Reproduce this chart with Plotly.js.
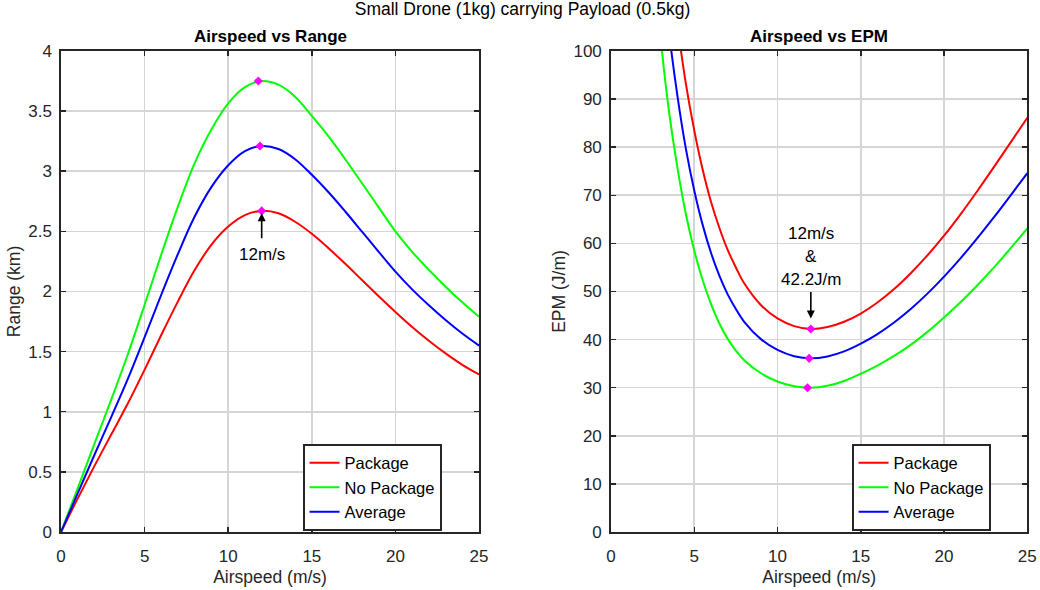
<!DOCTYPE html>
<html>
<head>
<meta charset="utf-8">
<script src="https://cdn.plot.ly/plotly-3.0.1.min.js"></script>
<style>html,body{margin:0;padding:0;background:#fff;}#chart{width:1040px;height:590px;}</style>
</head>
<body>
<div id="chart"></div>
<script>
// ---- Data ----
const seriesNames = ['Package', 'No Package', 'Average'];
const seriesColors = ['#FF0000', '#00FF00', '#0000FF'];

// Left panel: Airspeed (m/s) vs Range (km)
const rangeSpeed = [0,1,2,3,4,5,6,7,8,9,10,11,12,13,14,15,16,17,18,19,20,21,22,23,24,25];
const rangePackage   = [0,0.28,0.55,0.81,1.07,1.35,1.64,1.92,2.18,2.39,2.54,2.635,2.67,2.65,2.58,2.48,2.36,2.23,2.095,1.96,1.83,1.705,1.59,1.485,1.39,1.31];
const rangeNoPackage = [0,0.365,0.735,1.10,1.48,1.89,2.31,2.71,3.07,3.35,3.565,3.70,3.75,3.72,3.62,3.46,3.29,3.10,2.90,2.70,2.50,2.33,2.18,2.04,1.91,1.79];
const rangeAverage   = [0,0.3225,0.6425,0.955,1.275,1.62,1.975,2.315,2.625,2.87,3.05,3.1675,3.21,3.185,3.10,2.97,2.825,2.665,2.4975,2.33,2.165,2.0175,1.885,1.7625,1.65,1.55];

// Right panel: Airspeed (m/s) vs EPM (J/m)
const epmSpeed = [2.5,3,3.5,4,4.5,5,5.5,6,6.5,7,7.5,8,9,10,11,12,13,14,15,16,17,18,19,20,21,22,23,24,25];
const epmPackage   = [163,139,120,105.3,93.1,83.5,75.4,68.7,63.3,58.7,55.0,51.7,47.2,44.4,42.8,42.2,42.6,43.7,45.4,47.7,50.5,53.8,57.5,61.6,66.1,70.9,75.9,81.0,86.1];
const epmNoPackage = [122,102,87,75.5,66,58.5,52.4,47.5,43.4,40.2,37.7,35.7,33.0,31.3,30.3,30.0,30.4,31.4,32.9,34.6,36.6,38.9,41.6,44.6,47.8,51.3,55.0,59.0,63.1];
const epmAverage   = [142.5,120.5,103.5,90.4,79.6,71.0,63.9,58.1,53.35,49.45,46.35,43.7,40.1,37.85,36.55,36.1,36.5,37.55,39.15,41.15,43.55,46.35,49.55,53.1,56.95,61.1,65.45,70.0,74.6];

// Optimum markers (magenta)
const rangeOptSpeed = [12.0, 11.8, 11.9];
const rangeOptValue = [2.67, 3.75, 3.21];
const epmOptSpeed = [12.0, 11.8, 11.9];
const epmOptValue = [42.2, 30.0, 36.1];

// Annotation texts
const leftNote = '12m/s';
const rightNoteLines = ['12m/s', '&', '42.2J/m'];

// ---- Build chart ----
const FONT = 'Liberation Sans, Arial, Helvetica, sans-serif';
const rangeSeries = [rangePackage, rangeNoPackage, rangeAverage];
const epmSeries = [epmPackage, epmNoPackage, epmAverage];

const traces = [];
for (let i = 0; i < 3; i++) {
  traces.push({
    type: 'scatter', mode: 'lines', x: rangeSpeed, y: rangeSeries[i],
    name: seriesNames[i], xaxis: 'x', yaxis: 'y', legend: 'legend',
    line: {color: seriesColors[i], width: 2, shape: 'spline', smoothing: 1}
  });
}
traces.push({
  type: 'scatter', mode: 'markers', x: rangeOptSpeed, y: rangeOptValue,
  xaxis: 'x', yaxis: 'y', showlegend: false,
  marker: {symbol: 'diamond', size: 7, color: '#FF00FF'}
});
for (let i = 0; i < 3; i++) {
  traces.push({
    type: 'scatter', mode: 'lines', x: epmSpeed, y: epmSeries[i],
    name: seriesNames[i], xaxis: 'x2', yaxis: 'y2', legend: 'legend2',
    line: {color: seriesColors[i], width: 2, shape: 'spline', smoothing: 1}
  });
}
traces.push({
  type: 'scatter', mode: 'markers', x: epmOptSpeed, y: epmOptValue,
  xaxis: 'x2', yaxis: 'y2', showlegend: false,
  marker: {symbol: 'diamond', size: 7, color: '#FF00FF'}
});

function axis(extra) {
  return Object.assign({
    showline: true, linecolor: '#262626', linewidth: 1.8, mirror: 'ticks',
    ticks: 'inside', ticklen: 5, tickwidth: 1.5, tickcolor: '#262626',
    showgrid: true, gridcolor: '#d5d5d5', gridwidth: 1.6, zeroline: false,
    tickfont: {family: FONT, size: 17, color: '#262626'},
    fixedrange: true
  }, extra);
}

const xL = [0.0587, 0.4606], xR = [0.5875, 0.9878], yD = [0.0983, 0.9136];
const titleFont = {family: FONT, size: 17.5, color: '#262626'};
const legendFont = {family: FONT, size: 16.5, color: '#000000'};

const layout = {
  width: 1040, height: 590,
  margin: {l: 0, r: 0, t: 0, b: 0},
  paper_bgcolor: '#ffffff', plot_bgcolor: '#ffffff',
  font: {family: FONT, size: 17, color: '#262626'},
  title: {text: 'Small Drone (1kg) carrying Payload (0.5kg)', x: 0.5024, xanchor: 'center',
          yref: 'container', y: 1 - 9/590, yanchor: 'middle',
          font: {family: FONT, size: 17.5, color: '#000000'}},
  xaxis: axis({domain: xL, anchor: 'y', range: [0, 25], dtick: 5, tick0: 0,
               ticklabelstandoff: 8, title: {text: 'Airspeed (m/s)', standoff: 5, font: titleFont}}),
  yaxis: axis({domain: yD, anchor: 'x', range: [0, 4], dtick: 0.5, tick0: 0,
               ticklabelstandoff: 4, title: {text: 'Range (km)', standoff: 3, font: titleFont}}),
  xaxis2: axis({domain: xR, anchor: 'y2', range: [0, 25], dtick: 5, tick0: 0,
               ticklabelstandoff: 8, title: {text: 'Airspeed (m/s)', standoff: 5, font: titleFont}}),
  yaxis2: axis({domain: yD, anchor: 'x2', range: [0, 100], dtick: 10, tick0: 0,
               ticklabelstandoff: 4, title: {text: 'EPM (J/m)', standoff: 3, font: titleFont}}),
  legend: {x: 0.2913, y: 1 - 444/590, xanchor: 'left', yanchor: 'top', bgcolor: '#ffffff',
           bordercolor: '#262626', borderwidth: 1.6, font: legendFont, tracegroupgap: 0},
  legend2: {x: 0.8192, y: 1 - 444/590, xanchor: 'left', yanchor: 'top', bgcolor: '#ffffff',
           bordercolor: '#262626', borderwidth: 1.6, font: legendFont, tracegroupgap: 0},
  showlegend: true,
  annotations: [
    {xref: 'paper', yref: 'paper', x: (xL[0]+xL[1])/2, y: 1 - 36.5/590, xanchor: 'center', yanchor: 'middle',
     text: '<b>Airspeed vs Range</b>', showarrow: false, font: {family: FONT, size: 17, color: '#000000'}},
    {xref: 'paper', yref: 'paper', x: (xR[0]+xR[1])/2, y: 1 - 36.5/590, xanchor: 'center', yanchor: 'middle',
     text: '<b>Airspeed vs EPM</b>', showarrow: false, font: {family: FONT, size: 17, color: '#000000'}},
    // left arrow + text
    {xref: 'x', yref: 'y', x: 12.0, y: 2.65, axref: 'x', ayref: 'y', ax: 12.0, ay: 2.43,
     text: '', showarrow: true, arrowhead: 2, arrowsize: 1, arrowwidth: 1.6, arrowcolor: '#000000', standoff: 0, startstandoff: 0},
    {xref: 'x', yref: 'y', x: 12.0, y: 2.31, text: leftNote, showarrow: false, xanchor: 'center', yanchor: 'middle',
     font: {family: FONT, size: 17, color: '#000000'}},
    // right arrow + texts
    {xref: 'x2', yref: 'y2', x: 12.0, y: 44.4, axref: 'x2', ayref: 'y2', ax: 12.0, ay: 50.2,
     text: '', showarrow: true, arrowhead: 2, arrowsize: 1, arrowwidth: 1.6, arrowcolor: '#000000', standoff: 0, startstandoff: 0},
    {xref: 'x2', yref: 'y2', x: 12.0, y: 62.0, text: rightNoteLines[0], showarrow: false, xanchor: 'center', yanchor: 'middle',
     font: {family: FONT, size: 17, color: '#000000'}},
    {xref: 'x2', yref: 'y2', x: 12.0, y: 57.2, text: rightNoteLines[1], showarrow: false, xanchor: 'center', yanchor: 'middle',
     font: {family: FONT, size: 17, color: '#000000'}},
    {xref: 'x2', yref: 'y2', x: 12.0, y: 52.4, text: rightNoteLines[2], showarrow: false, xanchor: 'center', yanchor: 'middle',
     font: {family: FONT, size: 17, color: '#000000'}}
  ]
};

Plotly.newPlot('chart', traces, layout, {staticPlot: true, displayModeBar: false});
</script>
</body>
</html>
